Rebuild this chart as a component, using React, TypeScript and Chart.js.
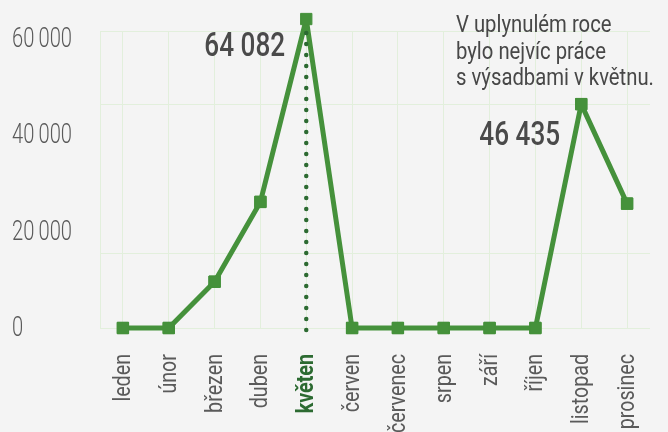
import React, { useEffect, useRef } from "react";
import { Chart, registerables } from "chart.js";

Chart.register(...registerables);

const months = ["leden", "únor", "březen", "duben", "květen", "červen", "červenec", "srpen", "září", "říjen", "listopad", "prosinec"];
const values = [0, 0, 9600, 26150, 64082, 0, 0, 0, 0, 0, 46435, 25800];
const yTicks = [0, 20000, 40000, 60000];
const gridValues = [0, 15500, 46435, 61600];
const yMax = 61600;
const highlightIndex = 4;
const peakLabels = [
  { index: 4, text: "64 082" },
  { index: 10, text: "46 435" },
];
const noteLines = ["V uplynulém roce", "bylo nejvíc práce", "s výsadbami v květnu."];

const FONT = "Roboto, 'Noto Sans', sans-serif";
const GREEN = "#45913b";
const DARK_GREEN = "#2c6a31";
const GRID = "#e2efdc";
const TEXT = "#5a5a5a";
const BG = "#f4f4f4";

const fmt = (n: number) => (n === 0 ? "0" : String(n).replace(/\B(?=(\d{3})+(?!\d))/g, "\u2009"));

function condensedText(
  ctx: CanvasRenderingContext2D,
  text: string,
  x: number,
  y: number,
  font: string,
  color: string,
  align: CanvasTextAlign,
  baseline: CanvasTextBaseline,
  sx: number,
  rotate = 0
) {
  ctx.save();
  ctx.translate(x, y);
  if (rotate) ctx.rotate(rotate);
  ctx.scale(sx, 1);
  ctx.font = font;
  ctx.fillStyle = color;
  ctx.textAlign = align;
  ctx.textBaseline = baseline;
  ctx.fillText(text, 0, 0);
  ctx.restore();
}

const annotations = {
  id: "annotations",
  beforeDraw(chart: any) {
    const { ctx, width, height } = chart;
    ctx.save();
    ctx.fillStyle = BG;
    ctx.fillRect(0, 0, width, height);
    ctx.restore();
  },
  afterDatasetsDraw(chart: any) {
    const { ctx } = chart;
    const xs = chart.scales.x;
    const ys = chart.scales.y;
    // redraw points without area culling so the peak marker above the plot shows
    chart.getDatasetMeta(0).data.forEach((p: any) => p.draw(ctx));
    // dotted highlight line
    const hx = xs.getPixelForValue(highlightIndex);
    const top = ys.getPixelForValue(values[highlightIndex]) + 8;
    const bottom = ys.getPixelForValue(0) + 2;
    ctx.save();
    ctx.strokeStyle = DARK_GREEN;
    ctx.lineWidth = 4.5;
    ctx.lineCap = "round";
    ctx.setLineDash([0, 11]);
    ctx.beginPath();
    ctx.moveTo(hx, bottom);
    ctx.lineTo(hx, top);
    ctx.stroke();
    ctx.restore();
  },
  afterDraw(chart: any) {
    const { ctx } = chart;
    const xs = chart.scales.x;
    const ys = chart.scales.y;
    // y tick labels
    yTicks.forEach((v) => {
      condensedText(ctx, fmt(v), 12, ys.getPixelForValue(v) + 1, `300 28px ${FONT}`, TEXT, "left", "middle", 0.72);
    });
    // x tick labels (rotated)
    months.forEach((m, i) => {
      const hl = i === highlightIndex;
      condensedText(
        ctx,
        m,
        xs.getPixelForTick(i) + 1,
        354,
        `${hl ? "bold" : "normal"} 24px ${FONT}`,
        hl ? DARK_GREEN : TEXT,
        "right",
        "middle",
        0.82,
        -Math.PI / 2
      );
    });
    // peak value labels
    peakLabels.forEach((p, i) => {
      const px = xs.getPixelForValue(p.index) - 21;
      const py = ys.getPixelForValue(values[p.index]) + (i === 0 ? 37 : 41);
      condensedText(ctx, p.text, px, py, `500 34px ${FONT}`, "#4a4a4a", "right", "alphabetic", 0.77);
    });
    // note
    noteLines.forEach((t, i) => {
      condensedText(ctx, t, 456, 32 + i * 26.7, `normal 24px ${FONT}`, "#474747", "left", "alphabetic", 0.845);
    });
  },
};

export default function App() {
  const ref = useRef<HTMLCanvasElement | null>(null);
  useEffect(() => {
    document.body.style.margin = "0";
    document.body.style.background = BG;
    if (!ref.current) return;
    const chart = new Chart(ref.current, {
      type: "line",
      data: {
        labels: months,
        datasets: [
          {
            data: values,
            borderColor: GREEN,
            backgroundColor: GREEN,
            borderWidth: 5,
            borderJoinStyle: "round",
            pointStyle: "rect",
            pointRadius: 8,
            pointBorderWidth: 1,
            pointBorderColor: GREEN,
            pointBackgroundColor: GREEN,
            tension: 0,
            clip: false as any,
          },
        ],
      },
      options: {
        animation: false,
        responsive: false,
        devicePixelRatio: 1,
        layout: { padding: { left: 12, right: 18, top: 31, bottom: 0 } },
        plugins: { legend: { display: false }, tooltip: { enabled: false }, title: { display: false } },
        scales: {
          x: {
            offset: true,
            grid: { color: GRID, lineWidth: 1, drawTicks: false },
            border: { display: false },
            ticks: { display: false, autoSkip: false },
            afterFit: (s: any) => {
              s.height = 104;
            },
          },
          y: {
            min: 0,
            max: yMax,
            position: "left",
            grid: { display: false },
            border: { display: true, color: GRID, width: 1 },
            ticks: { display: false },
            afterBuildTicks: (s: any) => {
              s.ticks = yTicks.map((v) => ({ value: v }));
            },
            afterFit: (s: any) => {
              s.width = 88;
            },
          },
          yGrid: {
            min: 0,
            max: yMax,
            position: "left",
            grid: { color: GRID, lineWidth: 1, drawTicks: false },
            border: { display: false },
            ticks: { display: false },
            afterBuildTicks: (s: any) => {
              s.ticks = gridValues.map((v) => ({ value: v }));
            },
            afterFit: (s: any) => {
              s.width = 0;
            },
          },
        },
      },
      plugins: [annotations],
    });
    return () => chart.destroy();
  }, []);
  return (
    <div style={{ width: 668, height: 432 }}>
      <canvas ref={ref} width={668} height={432} style={{ display: "block" }} />
    </div>
  );
}
